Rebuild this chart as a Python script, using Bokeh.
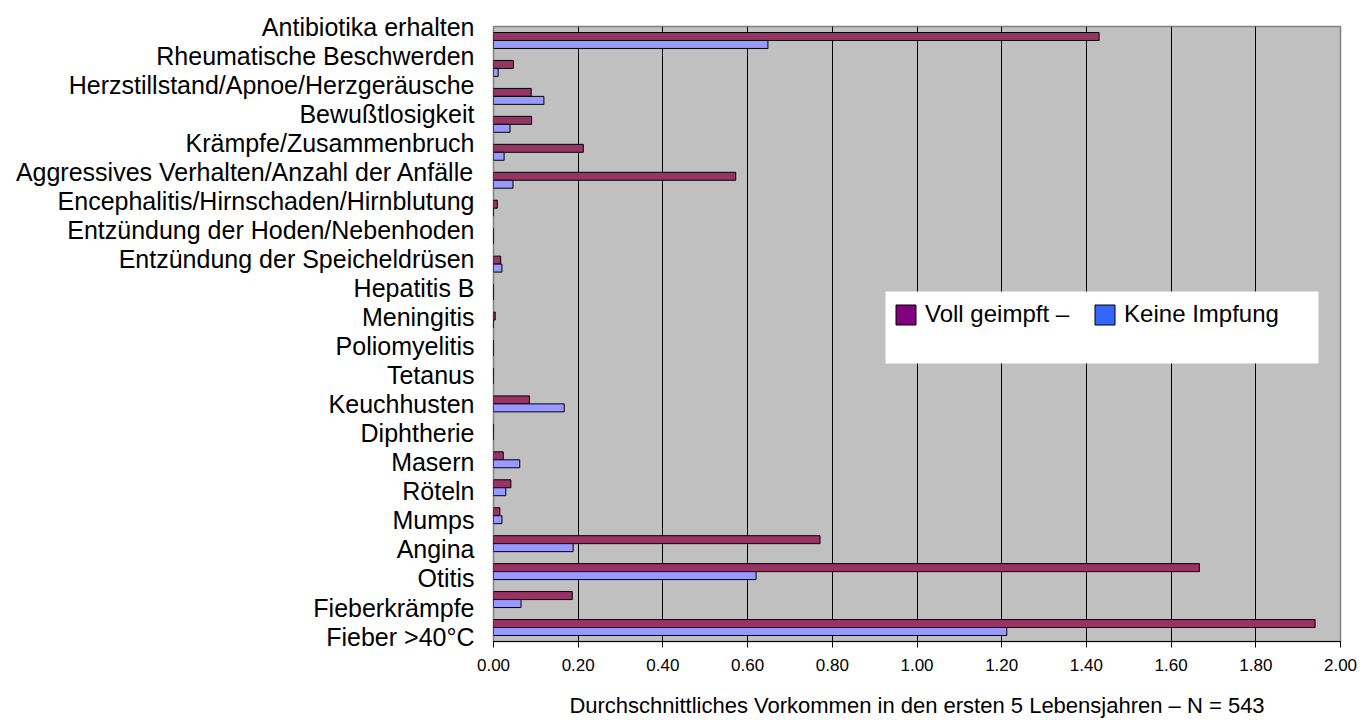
from bokeh.plotting import figure
from bokeh.models import (Range1d, LinearAxis, FixedTicker, PrintfTickFormatter,
                          Legend, LegendItem, BoxAnnotation, ColumnDataSource)
from bokeh.transform import dodge
from bokeh.embed import file_html
from bokeh.resources import INLINE

categories = [
    "Antibiotika erhalten", "Rheumatische Beschwerden", "Herzstillstand/Apnoe/Herzgeräusche",
    "Bewußtlosigkeit", "Krämpfe/Zusammenbruch", "Aggressives Verhalten/Anzahl der Anfälle",
    "Encephalitis/Hirnschaden/Hirnblutung", "Entzündung der Hoden/Nebenhoden",
    "Entzündung der Speicheldrüsen", "Hepatitis B", "Meningitis", "Poliomyelitis", "Tetanus",
    "Keuchhusten", "Diphtherie", "Masern", "Röteln", "Mumps", "Angina", "Otitis",
    "Fieberkrämpfe", "Fieber >40°C",
]
voll_geimpft = [1.43, 0.047, 0.089, 0.090, 0.212, 0.572, 0.009, 0.0, 0.017, 0.0, 0.004, 0.0, 0.0,
                0.085, 0.0, 0.023, 0.041, 0.015, 0.771, 1.667, 0.186, 1.94]
keine_impfung = [0.648, 0.011, 0.119, 0.039, 0.025, 0.046, 0.0, 0.0, 0.020, 0.0, 0.0, 0.0, 0.0,
                 0.167, 0.0, 0.062, 0.029, 0.020, 0.188, 0.620, 0.065, 1.212]
x_ticks = [0.0, 0.2, 0.4, 0.6, 0.8, 1.0, 1.2, 1.4, 1.6, 1.8, 2.0]
series_names = ["Voll geimpft –", "Keine Impfung"]
x_title = "Durchschnittliches Vorkommen in den ersten 5 Lebensjahren – N = 543"

FONT = "Liberation Sans"
W, H = 1372, 720
FL, FR, FT, FB = 493, 1340, 26, 641  # frame edges in canvas px

n = len(categories)
# category slot index (top category in the top slot)
slot = [n - 0.5 - i for i in range(n)]
src = ColumnDataSource(dict(cat=categories, slot=slot, voll=voll_geimpft, keine=keine_impfung))

p = figure(width=W, height=H, output_backend="svg", toolbar_location=None,
           y_range=Range1d(0, n), x_range=Range1d(0, 2.0), y_axis_location=None,
           min_border_left=FL, min_border_right=W - FR, min_border_top=FT,
           min_border_bottom=H - FB)
p.border_fill_color = "white"
p.background_fill_color = "#C0C0C0"
p.outline_line_color = "#808080"
p.outline_line_width = 1.5

# bars
bh = 0.285
p.hbar(y=dodge("slot", bh / 2), left=0, right="voll", height=bh, source=src,
       fill_color="#993366", line_color="black", line_width=1)
p.hbar(y=dodge("slot", -bh / 2), left=0, right="keine", height=bh, source=src,
       fill_color="#9999FF", line_color="black", line_width=1)

# x axis
xa = p.xaxis[0]
xa.ticker = FixedTicker(ticks=x_ticks)
xa.formatter = PrintfTickFormatter(format="%.2f")
xa.major_label_text_font = FONT
xa.major_label_text_font_size = "17px"
xa.major_label_text_color = "black"
xa.major_label_standoff = 11
xa.major_tick_out = 6
xa.major_tick_in = 0
xa.minor_tick_line_color = None
xa.axis_line_color = "black"
xa.major_tick_line_color = "black"
xa.axis_label = x_title
xa.axis_label_text_font = FONT
xa.axis_label_text_font_size = "22px"
xa.axis_label_text_font_style = "normal"
xa.axis_label_text_color = "black"
xa.axis_label_standoff = 19

p.xgrid.ticker = FixedTicker(ticks=x_ticks)
p.xgrid.grid_line_color = "black"
p.xgrid.grid_line_width = 1
p.ygrid.grid_line_color = None

# category labels: evenly spaced on their own scale
row_px = 29.05
span = (FB - FT) / row_px
p.extra_y_ranges = {"lab": Range1d(start=span, end=-0.001)}
ya = LinearAxis(y_range_name="lab", ticker=FixedTicker(ticks=list(range(n))),
                major_label_overrides={i: c for i, c in enumerate(categories)})
ya.major_label_text_font = FONT
ya.major_label_text_font_size = "25px"
ya.major_label_text_color = "black"
ya.major_label_standoff = 19
ya.major_tick_out = 0
ya.major_tick_in = 0
ya.major_tick_line_color = None
ya.minor_tick_line_color = None
ya.axis_line_color = None
p.add_layout(ya, "left")

# legend box and legend
box = BoxAnnotation(left=392, right=825, bottom=278, top=350,
                    left_units="screen", right_units="screen", bottom_units="screen", top_units="screen",
                    fill_color="white", fill_alpha=1.0, line_color=None)
p.add_layout(box)

# legend proxies (zero-size, outside the visible range)
leg_v = p.hbar(y=[-5], left=[0], right=[0], height=0, fill_color="#800080", line_color="black")
leg_k = p.hbar(y=[-5], left=[0], right=[0], height=0, fill_color="#3366FF", line_color="black")
legend = Legend(items=[LegendItem(label=series_names[0], renderers=[leg_v]),
                       LegendItem(label=series_names[1], renderers=[leg_k])],
                orientation="horizontal", location=(400, 313),
                glyph_width=25, glyph_height=25, label_height=25,
                label_text_font=FONT, label_text_font_size="24px", label_text_color="black",
                label_standoff=7, spacing=23, padding=0, margin=0,
                background_fill_alpha=0, border_line_color=None)
p.add_layout(legend)

open("out.html", "w").write(file_html(p, INLINE))
